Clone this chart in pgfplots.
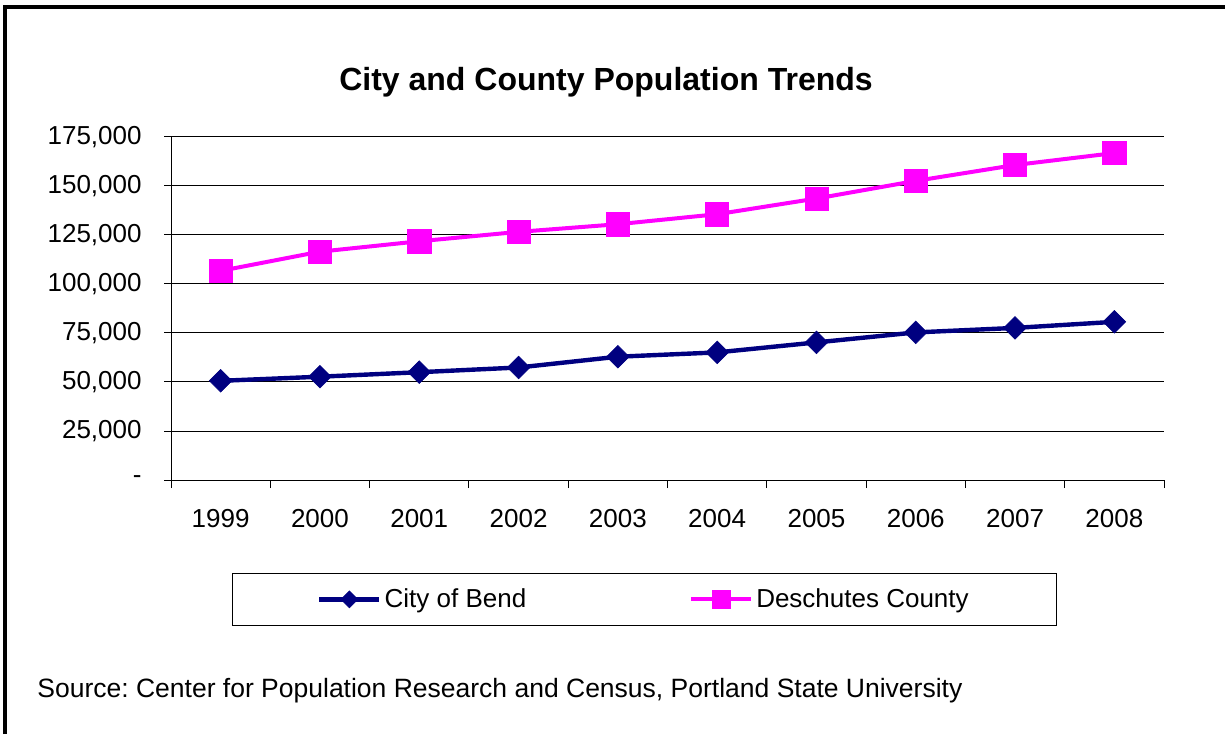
\documentclass[border=0pt]{standalone}
\usepackage{fontspec}
\setmainfont{Liberation Sans}
\usepackage{pgfplots}
\pgfplotsset{compat=1.18}
\frenchspacing
\definecolor{bendblue}{HTML}{000080}
\definecolor{deschpink}{HTML}{FF00FF}
\pgfplotstableread{
x y
0 50600
1 52700
2 55000
3 57400
4 62900
5 65100
6 70200
7 75300
8 77600
9 80700
}\bend
\pgfplotstableread{
x y
0 106700
1 116500
2 121800
3 126600
4 130500
5 135600
6 143600
7 152600
8 160700
9 166800
}\desch
\begin{document}
\begin{tikzpicture}
\useasboundingbox (0,0) rectangle (612.5pt,367pt);
\draw[line width=1.8pt] (2.6pt,0) -- (2.6pt,363.6pt) -- (613pt,363.6pt);
\node[anchor=base, inner sep=0pt, font=\bfseries\fontsize{16}{19}\selectfont] at (303pt,321.5pt) {City and County Population Trends};
\node[anchor=base west, inner sep=0pt, font=\fontsize{13.25}{15}\selectfont] at (18.5pt,18.2pt) {Source: Center for Population Research and Census, Portland State University};
\begin{axis}[
  at={(85.5pt,127pt)}, anchor=south west,
  scale only axis, width=496.5pt, height=171.5pt,
  xmin=-0.5, xmax=9.5, ymin=0, ymax=175000,
  scaled y ticks=false,
  xtick={0,1,2,3,4,5,6,7,8,9},
  xticklabels={1999,2000,2001,2002,2003,2004,2005,2006,2007,2008},
  minor xtick={-0.5,0.5,1.5,2.5,3.5,4.5,5.5,6.5,7.5,8.5,9.5},
  major x tick style={draw=none},
  minor x tick style={black, line width=0.5pt},
  ytick={0,25000,50000,75000,100000,125000,150000,175000},
  yticklabels={-,{25,000},{50,000},{75,000},{100,000},{125,000},{150,000},{175,000}},
  ymajorgrids, grid style={black, line width=0.5pt},
  axis x line*=bottom, axis y line*=left,
  axis line style={black, line width=0.5pt},
  ytick style={black, line width=0.5pt},
  tick align=outside, major tick length=3.5pt, minor tick length=4pt,
  /pgf/number format/assume math mode=true,
  ticklabel style={font=\fontsize{13}{15}\selectfont},
  yticklabel style={inner sep=0pt, xshift=-11pt},
  xticklabel style={inner sep=0pt, yshift=-11pt},
  clip=false,
  legend columns=2,
  legend style={at={(0.4768,-0.348)}, anchor=center, draw=black, line width=0.5pt,
    inner xsep=42.5pt, inner ysep=6pt, font=\fontsize{13}{15}\selectfont,
    nodes={inner sep=1.5pt},
    /tikz/every even column/.append style={column sep=80pt}},
  legend image code/.code={\draw[mark repeat=2,mark phase=2, every mark/.append style={scale=0.75}] plot coordinates {(0pt,0pt) (15pt,0pt) (30pt,0pt)};},
]
\addplot[bendblue, line width=2.2pt, mark=square*, mark size=4pt, mark options={rotate=45, solid, line width=0.3pt}] table[x=x,y=y] {\bend};
\addlegendentry{City of Bend}
\addplot[deschpink, line width=2pt, mark=square*, mark size=5.8pt, mark options={solid, line width=0.3pt}] table[x=x,y=y] {\desch};
\addlegendentry{Deschutes County}
\end{axis}
\end{tikzpicture}
\end{document}
